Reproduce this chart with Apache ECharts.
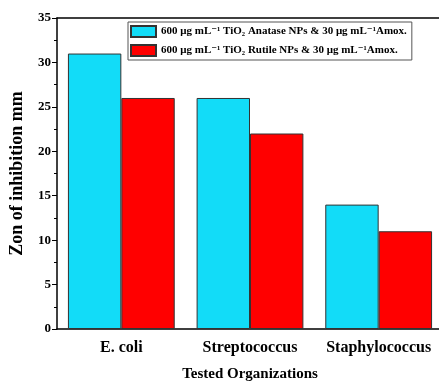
<!DOCTYPE html>
<html>
<head>
<meta charset="utf-8">
<script src="https://cdn.jsdelivr.net/npm/echarts@6/dist/echarts.min.js"></script>
<style>
  html, body { margin: 0; padding: 0; background: #fff; }
  #chart { width: 439px; height: 383px; }
</style>
</head>
<body>
<div id="chart"></div>
<script>
// data
var categories = ["E. coli", "Streptococcus", "Staphylococcus"];
var seriesNames = [
  "600 μg mL⁻¹ TiO₂ Anatase NPs & 30 μg mL⁻¹Amox.",
  "600 μg mL⁻¹ TiO₂ Rutile NPs & 30 μg mL⁻¹Amox."
];
var anataseValues = [31, 26, 14];
var rutileValues = [26, 22, 11];

var fontFam = '"Liberation Serif", "DejaVu Serif", serif';

var myChart = echarts.init(document.getElementById("chart"));
var option = {
  animation: false,
  textStyle: { fontFamily: fontFam, color: "#000" },
  legend: {
    orient: "vertical",
    left: 128,
    top: 22,
    icon: "rect",
    itemWidth: 25,
    itemHeight: 11,
    itemGap: 6,
    padding: [3, 5, 3, 2],
    borderColor: "#555",
    borderWidth: 1,
    textStyle: { fontFamily: fontFam, fontWeight: "bold", fontSize: 11, color: "#000" },
    data: seriesNames,
  },
  grid: {
    left: 57,
    width: 386,
    top: 18,
    bottom: 54,
    outerBoundsMode: "none",
    containLabel: false,
  },
  xAxis: [
    {
      type: "category",
      data: categories,
      axisLine: { lineStyle: { color: "#000", width: 1.5 } },
      axisTick: { alignWithLabel: true, length: 5, lineStyle: { color: "#000" } },
      axisLabel: { interval: 0, fontFamily: fontFam, fontWeight: "bold", fontSize: 16, color: "#000", margin: 11 },
      name: "Tested Organizations",
      nameLocation: "middle",
      nameGap: 38,
      nameTextStyle: { fontFamily: fontFam, fontWeight: "bold", fontSize: 15, color: "#000" },
    },
    {
      // small ticks between categories
      type: "category",
      data: categories,
      position: "bottom",
      axisLine: { show: false },
      axisTick: { inside: true, length: 3, lineStyle: { color: "#000" } },
      axisLabel: { show: false },
    },
    {
      // top frame line
      type: "category",
      data: categories,
      position: "top",
      axisLine: { show: true, lineStyle: { color: "#000", width: 1.5 } },
      axisTick: { show: false },
      axisLabel: { show: false },
    },
  ],
  yAxis: {
    type: "value",
    min: 0,
    max: 35,
    interval: 5,
    name: "Zon of inhibition mm",
    nameLocation: "middle",
    nameGap: 31,
    nameTextStyle: { fontFamily: fontFam, fontWeight: "bold", fontSize: 18, color: "#000" },
    axisLine: { show: true, lineStyle: { color: "#000", width: 1.5 } },
    axisTick: { show: true, length: 5, lineStyle: { color: "#000" } },
    minorTick: { show: true, splitNumber: 2, length: 3, lineStyle: { color: "#000" } },
    splitLine: { show: false },
    axisLabel: { fontFamily: fontFam, fontWeight: "bold", fontSize: 13, color: "#000", margin: 6 },
  },
  series: [
    {
      name: seriesNames[0],
      type: "bar",
      data: anataseValues,
      barGap: "0%",
      barCategoryGap: "17%",
      itemStyle: { color: "#12dcf8", borderColor: "#333", borderWidth: 1 },
    },
    {
      name: seriesNames[1],
      type: "bar",
      data: rutileValues,
      itemStyle: { color: "#ff0000", borderColor: "#333", borderWidth: 1 },
    },
  ],
};
myChart.setOption(option);
</script>
</body>
</html>
